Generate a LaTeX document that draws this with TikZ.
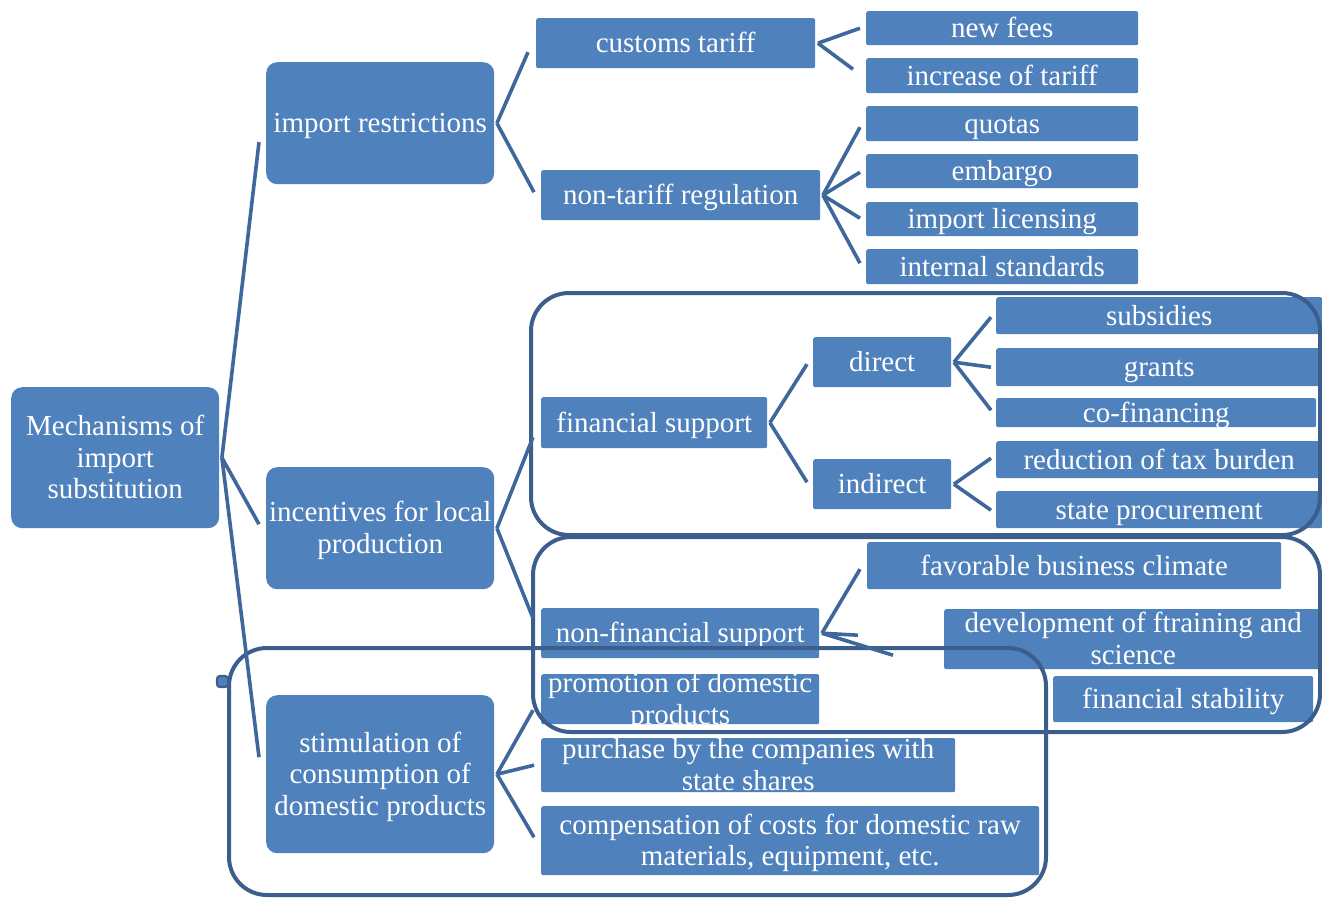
\documentclass[tikz,border=0pt]{standalone}
\usepackage{fontspec}
\setmainfont{Liberation Serif}
\usetikzlibrary{calc}
\definecolor{boxblue}{RGB}{79,129,189}
\definecolor{lineblue}{RGB}{62,104,156}
\definecolor{frameblue}{RGB}{59,94,140}
\newcommand\fsz{\fontsize{29}{31.5}\selectfont}
\newcommand\msh{\rule{0pt}{28pt}}
\newcommand\msd{\rule[-9pt]{0pt}{9pt}}
\newcommand\mybox[7]{%
  \node[#1, minimum width={(#5-#3)*1pt}, minimum height={(#6-#4)*1pt}] (#2) at (#3,#4) {};
  \node[txt] (#2t) at (#2.center) {\msh #7\msd};}
\tikzset{
  boxbase/.style={fill=boxblue, anchor=north west, inner sep=0pt, draw=none},
  rbox/.style={boxbase, rounded corners=11pt},
  sbox/.style={boxbase, rounded corners=2pt},
  txt/.style={text=white, inner sep=0pt, align=center, font=\fsz},
  conn/.style={draw=lineblue, line width=3.6pt},
  frame/.style={draw=frameblue, line width=4pt, rounded corners=38pt}
}
\begin{document}
\begin{tikzpicture}[x=1pt,y=-1pt]
\useasboundingbox (0,0) rectangle (1322,897);
% level 0 and 1
\mybox{rbox}{root}{11}{387}{219}{528}{Mechanisms of\\import\\substitution}
\mybox{rbox}{ir}{266}{62}{494}{184}{import restrictions}
\mybox{rbox}{inc}{266}{467}{494}{589}{incentives for local\\production}
\mybox{rbox}{stim}{266}{695}{494}{853}{stimulation of\\consumption of\\domestic products}
% import restrictions branch
\mybox{sbox}{ct}{536}{18}{815}{68}{customs tariff}
\mybox{sbox}{ntr}{541}{170}{820}{220}{non-tariff regulation}
\mybox{sbox}{nf}{866}{11}{1138}{45}{new fees}
\mybox{sbox}{iot}{866}{58}{1138}{93}{increase of tariff}
\mybox{sbox}{quo}{866}{106}{1138}{141}{quotas}
\mybox{sbox}{emb}{866}{154}{1138}{188}{embargo}
\mybox{sbox}{lic}{866}{202}{1138}{236}{import licensing}
\mybox{sbox}{std}{866}{249}{1138}{284}{internal standards}
% financial support branch
\mybox{sbox}{fs}{541}{397}{767}{448}{financial support}
\mybox{sbox}{dir}{813}{337}{951}{387}{direct}
\mybox{sbox}{ind}{813}{459}{951}{509}{indirect}
\mybox{sbox}{sub}{996}{297}{1322}{334}{subsidies}
\mybox{sbox}{gra}{996}{348}{1322}{386}{grants}
\mybox{sbox}{cof}{996}{398}{1316}{427}{co-financing}
\mybox{sbox}{red}{996}{441}{1322}{478}{reduction of tax burden}
\mybox{sbox}{sp}{996}{491}{1322}{528}{state procurement}
% non-financial support branch
\mybox{sbox}{nfs}{541}{608}{819}{658}{non-financial support}
\mybox{sbox}{fbc}{867}{542}{1281}{589}{favorable business climate}
\mybox{sbox}{dev}{944}{609}{1322}{669}{development of ftraining and\\science}
\mybox{sbox}{fst}{1053}{676}{1313}{722}{financial stability}
% stimulation branch
\mybox{sbox}{pro}{541}{674}{819}{724}{promotion of domestic\\products}
\mybox{sbox}{pur}{541}{738}{955}{792}{purchase by the companies with\\state shares}
\mybox{sbox}{com}{541}{806}{1039}{875}{compensation of costs for domestic raw\\materials, equipment, etc.}
% frames
\draw[frame] (531,293) rectangle (1320,535);
\draw[frame] (533,537) rectangle (1320,732);
\draw[frame] (229,648) rectangle (1046,895);
\node[draw=frameblue, fill=boxblue, line width=2.2pt, rounded corners=3pt, minimum size=11pt, inner sep=0pt] (tab) at (222.5,681.5) {};
% connectors
\foreach \p/\c/\dx/\dy in {root/ir/-7/19, root/inc/-7/-4, root/stim/-7/-17,
  ir/ct/-8/9, ir/ntr/-7/-3,
  ct/nf/-6/0, ct/iot/-13/-6.5,
  ntr/quo/-6/3.5, ntr/emb/-6/1, ntr/lic/-6/-1, ntr/std/-6/-3.5,
  inc/fs/-8/14.5, inc/nfs/-8/-15,
  fs/dir/-6/2, fs/ind/-6/-2,
  dir/sub/-5/1.5, dir/gra/-5/0, dir/cof/-5/-2.5,
  ind/red/-5/-1.5, ind/sp/-5/0.5,
  nfs/fbc/-7/3.5, nfs/dev/-86/-4, nfs/fst/-160/-44,
  stim/pro/-8/11, stim/pur/-7/0, stim/com/-7/-3.5}
  \draw[conn] ($(\p.east)+(2.5,0)$) -- ($(\c.west)+(\dx,\dy)$);
\end{tikzpicture}
\end{document}
